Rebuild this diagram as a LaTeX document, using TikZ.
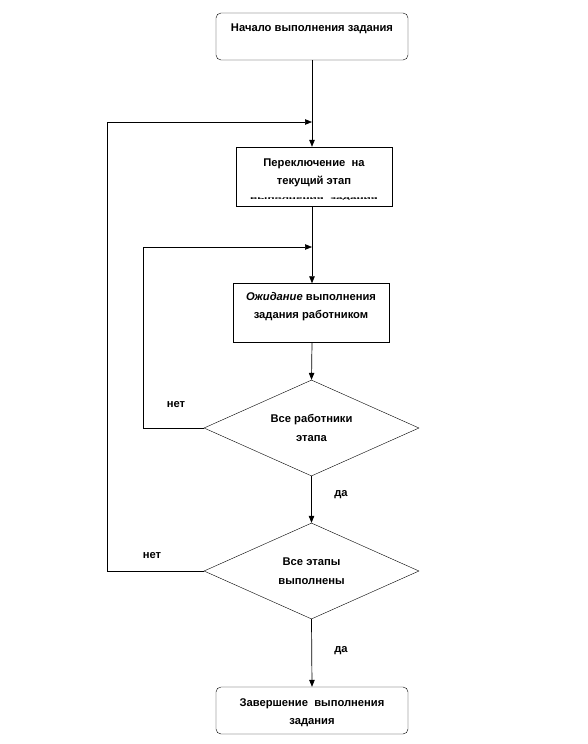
\documentclass[tikz,border=0pt]{standalone}
\usepackage{fontspec}
\setmainfont{Liberation Sans}
\usetikzlibrary{arrows.meta,positioning,shapes.geometric}

\tikzset{
    roundbox/.style={draw, rounded corners=5pt, minimum width=192pt, minimum height=47pt, inner sep=0pt},
    plainbox/.style={draw, minimum width=156pt, minimum height=59pt, inner sep=0pt},
    choice/.style={draw, diamond, aspect=2.24, minimum width=215pt, minimum height=96pt, inner sep=0pt,
                   align=center, font=\bfseries\fontsize{11.2}{19}\selectfont},
    txt/.style={align=center, inner sep=0pt, font=\bfseries\fontsize{11.2}{18}\selectfont},
    arr/.style={-{Triangle[length=7pt,width=5.5pt]}, line width=0.7pt},
    line/.style={line width=0.7pt}
}

\begin{document}
\begin{tikzpicture}[x=1pt, y=-1pt]
            \useasboundingbox[fill=white] (0,0) rectangle (588,744);

            % Start of the task
            \node[roundbox] (start) at (312,36.5) {};
            \node[txt, anchor=base] (starttxt) at (312,31) {Начало выполнения задания};

            % Switching to the current stage
            \node[plainbox] (switch) at (314,176.5) {};
            \node[txt, anchor=base] (switchtxt) at (314,184) {Переключение\ \ на\\текущий этап};
            \node[inner sep=0pt, anchor=base, font=\bfseries\fontsize{11.2}{12}\selectfont] (switchtail)
                at (314,199.5) {\scalebox{1.05}[0.3]{выполнения\ \ задания}};

            % Waiting for the worker
            \node[plainbox] (wait) at (311,313) {};
            \node[txt, anchor=base] (waittxt) at (311,318) {\textit{Ожидание} выполнения\\задания работником};

            % Decisions
            \node[choice] (workers) at (311.5,428) {Все работники\\этапа};
            \node[choice] (stages) at (311.5,571) {Все этапы\\выполнены};

            % End of the task
            \node[roundbox] (finish) at (312,710.5) {};
            \node[txt, anchor=base] (finishtxt) at (312,724) {Завершение\ \ выполнения\\задания};

            % Joints of the return loops
            \coordinate (outer) at (107,122);
            \coordinate (outerin) at (312,122);
            \coordinate (inner) at (143,247);
            \coordinate (innerin) at (312,247);

            % Main flow
            \draw[arr] (start.south) -- (switch.north -| start.south);
            \draw[arr] (switch.south -| start.south) -- (wait.north -| start.south);
            \draw[arr] (wait.south -| start.south) -- (workers.north);
            \draw[arr] (workers.south) -- (stages.north);
            \draw[arr] (stages.south) -- (finish.north);

            % Return loops
            \draw[line] (workers.west) -| (inner);
            \draw[arr] (inner) -- (innerin);
            \draw[line] (stages.west) -| (outer);
            \draw[arr] (outer) -- (outerin);

            % Answers
            \node[txt] (no1) at (176,405) {нет};
            \node[txt] (yes1) at (341,495) {да};
            \node[txt] (no2) at (152,556) {нет};
            \node[txt] (yes2) at (341,651) {да};
\end{tikzpicture}
\end{document}
